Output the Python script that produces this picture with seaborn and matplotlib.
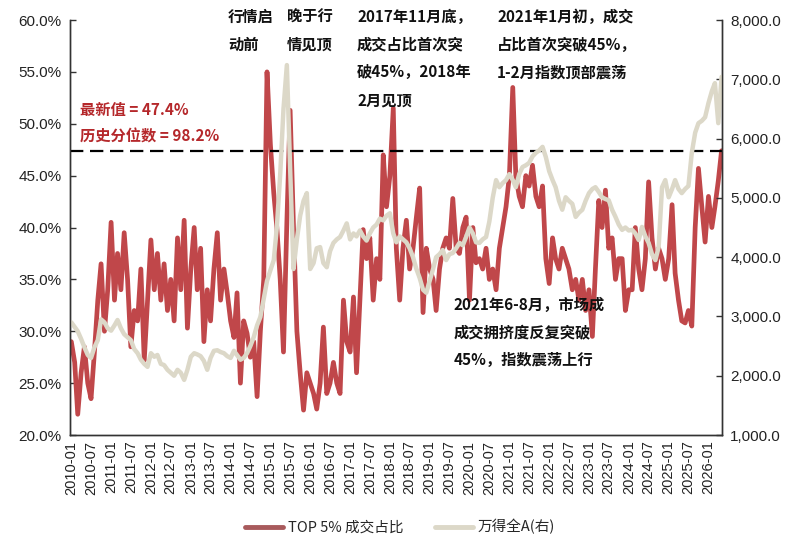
import matplotlib
matplotlib.use("Agg")
import matplotlib.pyplot as plt
import matplotlib.dates as mdates
import matplotlib.ticker as mticker
from matplotlib.lines import Line2D
import pandas as pd
import seaborn as sns

# 月度数据: 2010-01 ~ 2026-05
dates = pd.date_range("2010-01-01", periods=197, freq="MS")

top5_share = [
    29, 27, 22, 26, 28.5, 25, 23.5, 28, 33, 36.5, 30, 34,            # 2010
    40.5, 33, 37.5, 34, 39.5, 35, 28.5, 32, 31, 36, 27.2, 33,        # 2011
    38.8, 34, 37.5, 33, 36.5, 32, 35, 31, 39, 34, 40.7, 30.3,        # 2012
    36, 40, 34, 38, 29, 34, 31, 36, 39.5, 33, 36, 33.7,              # 2013
    31, 29.4, 33.7, 25, 31, 29.8, 27.5, 29, 23.7, 30, 35, 55,        # 2014
    48, 43.3, 40, 35, 28, 40.5, 51.3, 40, 30, 26, 22.4, 26,          # 2015
    25, 24, 22.5, 25, 30.4, 24, 25, 27, 25, 24, 33, 29,              # 2016
    28, 33.3, 26, 33, 39.8, 37, 39, 33, 37, 35, 47, 42,              # 2017
    45, 51.5, 38, 33, 38, 40.7, 36, 38, 41, 43.8, 31.8, 38,          # 2018
    36, 35, 32, 36, 38, 39, 38, 42.8, 38, 37.5, 40, 41,              # 2019
    33, 40, 36.6, 37, 36, 38, 35, 36, 34, 38, 40, 42,                # 2020
    45, 53.5, 45, 43, 42, 45, 44, 46, 43, 42, 44, 37,                # 2021
    34.6, 39, 37, 36, 38, 37, 36, 34, 35, 33, 35, 32,                # 2022
    34, 29.5, 36, 42.6, 40, 43.6, 38, 39, 35, 37, 37, 32,            # 2023
    34, 34, 40, 36, 34, 37, 44.4, 39, 36, 38, 37, 35,                # 2024
    37, 42.2, 35.6, 33, 31, 30.8, 32, 30.5, 40, 45.7, 42, 38.6,      # 2025
    43, 40, 42, 44.5, 47.4,                                          # 2026
]

wind_all_a = [
    2900, 2820, 2750, 2620, 2480, 2350, 2300, 2480, 2600, 2950, 2900, 2800,  # 2010
    2760, 2850, 2940, 2800, 2700, 2650, 2600, 2450, 2380, 2270, 2200, 2150,  # 2011
    2380, 2320, 2350, 2200, 2180, 2100, 2050, 2000, 2100, 2050, 1930, 2100,  # 2012
    2320, 2380, 2360, 2330, 2250, 2100, 2300, 2420, 2430, 2400, 2380, 2330,  # 2013
    2300, 2420, 2350, 2270, 2300, 2380, 2500, 2650, 2850, 2990, 3300, 3600,  # 2014
    3780, 3950, 4500, 5400, 6500, 7240, 5500, 3800, 4300, 4700, 4950, 5080,  # 2015
    3800, 3900, 4150, 4170, 3900, 3830, 4100, 4240, 4300, 4340, 4450, 4570,  # 2016
    4300, 4400, 4350, 4450, 4350, 4280, 4400, 4500, 4550, 4650, 4620, 4700,  # 2017
    4740, 4400, 4250, 4350, 4300, 4250, 4150, 4000, 3800, 3650, 3450, 3400,  # 2018
    3600, 3800, 4000, 4050, 4120, 3950, 4050, 4070, 4150, 4240, 4200, 4340,  # 2019
    4500, 4400, 4250, 4240, 4300, 4340, 4600, 5000, 5300, 5180, 5250, 5300,  # 2020
    5400, 5300, 5180, 5400, 5520, 5550, 5590, 5700, 5760, 5800, 5860, 5690,  # 2021
    5450, 5300, 5180, 4950, 4800, 5010, 4950, 4900, 4680, 4750, 4800, 4950,  # 2022
    5080, 5150, 5180, 5100, 5010, 4980, 4960, 4800, 4680, 4550, 4460, 4500,  # 2023
    4450, 4460, 4400, 4290, 4510, 4350, 4240, 4050, 3950, 4170, 5180, 5300,  # 2024
    5010, 5150, 5300, 5150, 5080, 5150, 5200, 5760, 6100, 6260, 6300, 6360,  # 2025
    6600, 6800, 6935, 6260, 7040,                                            # 2026
]

latest_value = 47.4
percentile = 98.2

df = pd.DataFrame({"date": dates, "top5": [v / 100 for v in top5_share], "wind": wind_all_a})

RED = "#C0474A"
BEIGE = "#DCD8C8"
CJK = ["Noto Sans CJK SC", "DejaVu Sans"]

sns.set_style("white")
plt.rcParams["font.family"] = ["Liberation Sans", "Noto Sans CJK SC", "DejaVu Sans"]

fig = plt.figure(figsize=(8, 5.56), dpi=100)
ax = fig.add_axes([0.0875, 0.2176, 0.815, 0.7464])
ax2 = ax.twinx()

sns.lineplot(data=df, x="date", y="top5", ax=ax, color=RED, lw=3.4)
sns.lineplot(data=df, x="date", y="wind", ax=ax2, color=BEIGE, lw=3.2)
ax.axhline(latest_value / 100, color="black", lw=1.6, ls=(0, (6, 3)), zorder=5)

ax.set_ylim(0.20, 0.60)
ax.yaxis.set_major_locator(mticker.MultipleLocator(0.05))
ax.yaxis.set_major_formatter(mticker.FuncFormatter(lambda v, p: f"{v * 100:.1f}%"))
ax2.set_ylim(1000, 8000)
ax2.yaxis.set_major_locator(mticker.MultipleLocator(1000))
ax2.yaxis.set_major_formatter(mticker.FuncFormatter(lambda v, p: f"{v:,.1f}"))

ax.set_xlim(pd.Timestamp("2009-12-20"), pd.Timestamp("2026-05-05"))
ax.xaxis.set_major_locator(mdates.MonthLocator(bymonth=[1, 7]))
ax.xaxis.set_major_formatter(mdates.DateFormatter("%Y-%m"))
for lbl in ax.get_xticklabels():
    lbl.set_rotation(90)

ax.set_xlabel("")
ax.set_ylabel("")
ax2.set_ylabel("")

for a in (ax, ax2):
    a.tick_params(direction="in", length=4, width=1, colors="#333333", labelcolor="#222222")
    for side in ("left", "right", "bottom"):
        a.spines[side].set_color("#333333")
        a.spines[side].set_linewidth(1)
    a.spines["top"].set_visible(False)
ax.tick_params(axis="y", labelsize=11, pad=6)
ax.tick_params(axis="x", labelsize=10.5, pad=4)
ax2.tick_params(axis="y", labelsize=11, pad=6)

# 注释
note_kw = dict(fontsize=11, fontweight="bold", color="#111111", va="top", ha="left",
               linespacing=1.9, family=CJK)
fig.text(228 / 800, 1 - 9 / 556, "行情启\n动前", **note_kw)
fig.text(287 / 800, 1 - 9 / 556, "晚于行\n情见顶", **note_kw)
fig.text(357 / 800, 1 - 9 / 556, "2017年11月底，\n成交占比首次突\n破45%，2018年\n2月见顶", **note_kw)
fig.text(497 / 800, 1 - 9 / 556, "2021年1月初，成交\n占比首次突破45%，\n1-2月指数顶部震荡", **note_kw)
fig.text(454 / 800, 1 - 297 / 556, "2021年6-8月，市场成\n成交拥挤度反复突破\n45%，指数震荡上行", **note_kw)
fig.text(80 / 800, 1 - 102 / 556,
         f"最新值 = {latest_value}%\n历史分位数 = {percentile}%",
         fontsize=11, fontweight="bold", color="#B5282B", va="top", ha="left",
         linespacing=1.8, family=CJK)

handles = [
    Line2D([], [], color="#A85A5C", lw=3.5),
    Line2D([], [], color=BEIGE, lw=3.5),
]
fig.legend(handles, ["TOP 5% 成交占比", "万得全A(右)"], loc="center",
           bbox_to_anchor=(0.5, 1 - 527 / 556), ncol=2, frameon=False,
           prop={"family": CJK, "size": 10.5}, handlelength=2.6, columnspacing=2.2,
           handletextpad=0.3)

fig.savefig("out.png", dpi=100)
